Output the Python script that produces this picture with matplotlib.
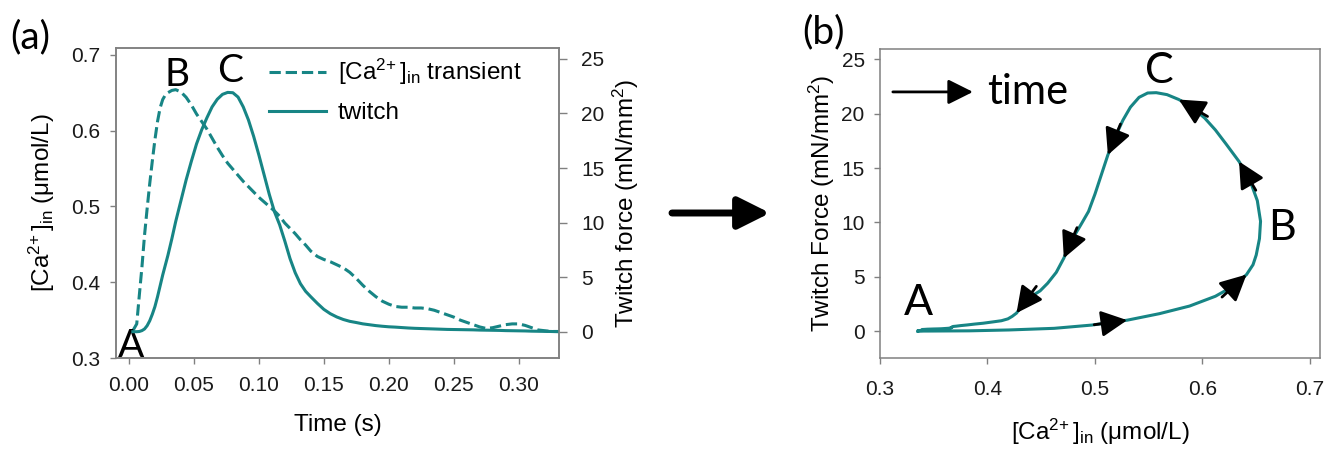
import numpy as np
import matplotlib
matplotlib.use("Agg")
import matplotlib.pyplot as plt
from matplotlib.patches import FancyArrowPatch

plt.rcParams['font.family'] = ['Liberation Sans', 'DejaVu Sans']
plt.rcParams['mathtext.fontset'] = 'custom'
plt.rcParams['mathtext.rm'] = 'Liberation Sans'
plt.rcParams['mathtext.it'] = 'Liberation Sans:italic'
plt.rcParams['mathtext.default'] = 'regular'

# time (s)
t = [0.003, 0.006, 0.008, 0.010, 0.012, 0.014, 0.016, 0.018, 0.020, 0.022,
     0.024, 0.026, 0.028, 0.030, 0.033, 0.036, 0.040, 0.044, 0.048, 0.052,
     0.056, 0.060, 0.064, 0.068, 0.072, 0.076, 0.080, 0.084, 0.088, 0.092,
     0.096, 0.100, 0.104, 0.108, 0.112, 0.116, 0.120, 0.124, 0.128, 0.132,
     0.136, 0.140, 0.145, 0.150, 0.155, 0.160, 0.165, 0.170, 0.175, 0.180,
     0.185, 0.190, 0.195, 0.200, 0.205, 0.210, 0.215, 0.220, 0.225, 0.230,
     0.235, 0.240, 0.245, 0.250, 0.255, 0.260, 0.265, 0.270, 0.275, 0.280,
     0.285, 0.290, 0.295, 0.300, 0.305, 0.310, 0.315, 0.320, 0.325, 0.331]

# [Ca2+]in transient (umol/L)
ca = [0.336, 0.345, 0.383, 0.420, 0.462, 0.497, 0.530, 0.560, 0.588, 0.612,
      0.630, 0.641, 0.647, 0.650, 0.653, 0.654, 0.651, 0.644, 0.634, 0.622,
      0.612, 0.602, 0.590, 0.578, 0.567, 0.557, 0.549, 0.541, 0.533, 0.526,
      0.519, 0.512, 0.506, 0.500, 0.494, 0.487, 0.478, 0.471, 0.464, 0.456,
      0.449, 0.441, 0.434, 0.430, 0.427, 0.423, 0.419, 0.413, 0.405, 0.396,
      0.388, 0.381, 0.375, 0.371, 0.368, 0.367, 0.367, 0.366, 0.366, 0.365,
      0.363, 0.360, 0.357, 0.354, 0.350, 0.347, 0.344, 0.341, 0.339, 0.340,
      0.342, 0.344, 0.345, 0.345, 0.343, 0.340, 0.337, 0.336, 0.335, 0.335]

# twitch force (mN/mm2)
force = [0.0, 0.0, 0.02, 0.1, 0.25, 0.55, 1.0, 1.6, 2.3, 3.2,
         4.2, 5.2, 6.1, 7.0, 8.5, 10.1, 12.0, 13.9, 15.6, 17.2,
         18.5, 19.6, 20.6, 21.3, 21.75, 21.93, 21.9, 21.5, 20.6, 19.4,
         17.9, 16.2, 14.4, 12.6, 11.0, 9.8, 8.3, 6.7, 5.4, 4.4,
         3.7, 3.2, 2.6, 2.05, 1.65, 1.35, 1.12, 0.95, 0.84, 0.72,
         0.64, 0.56, 0.50, 0.45, 0.42, 0.38, 0.34, 0.31, 0.29, 0.27,
         0.25, 0.23, 0.21, 0.20, 0.19, 0.18, 0.17, 0.15, 0.14, 0.13,
         0.12, 0.10, 0.09, 0.08, 0.07, 0.05, 0.04, 0.03, 0.02, 0.0]

# times at which panel (b) carries an arrow head
arrow_times = [0.016, 0.026, 0.048, 0.068, 0.100, 0.124, 0.155]

t = np.array(t)
ca = np.array(ca)
force = np.array(force)

teal = '#178585'
gray = '#808080'
ca_lab = '[Ca$^{2\\!+}$]$_{in}$'

fig = plt.figure(figsize=(13.42, 4.51), dpi=100)


def style_axes(ax):
    for s in ax.spines.values():
        s.set_color(gray)
        s.set_linewidth(1.1)
    ax.tick_params(direction='out', length=4, width=1, color=gray,
                   labelsize=15, labelcolor='#1a1a1a')


# ---- panel (a) ----
ax1 = fig.add_axes([0.0864, 0.2062, 0.3301, 0.6874])
ax2 = ax1.twinx()
l1, = ax1.plot(t, ca, '--', color=teal, lw=2.2)
l2, = ax2.plot(t, force, '-', color=teal, lw=2.2)
ax1.set_xlim(-0.01, 0.331)
ax1.set_ylim(0.3, 0.709)
ax2.set_ylim(-2.41, 26.0)
ax1.set_xticks([0, 0.05, 0.10, 0.15, 0.20, 0.25, 0.30])
ax1.set_xticklabels(['0.00', '0.05', '0.10', '0.15', '0.20', '0.25', '0.30'])
ax1.set_yticks([0.3, 0.4, 0.5, 0.6, 0.7])
ax2.set_yticks([0, 5, 10, 15, 20, 25])
style_axes(ax1)
style_axes(ax2)
ax1.tick_params(axis='x', pad=9)
ax1.tick_params(axis='y', pad=7)
ax2.tick_params(axis='y', length=6, pad=10)
ax1.set_xlabel('Time (s)', fontsize=17.5)
ax1.set_ylabel(ca_lab + ' (μmol/L)', fontsize=17.5)
ax2.set_ylabel('Twitch force (mN/mm$^2$)', fontsize=17.5)
ax1.xaxis.set_label_coords(0.5, -0.216)
ax1.xaxis.label.set_va('center')
ax1.yaxis.set_label_coords(-0.167, 0.5)
ax1.yaxis.label.set_va('center')
ax2.yaxis.set_label_coords(1.152, 0.5)
ax2.yaxis.label.set_va('center')

ax1.legend([l1, l2], [ca_lab + ' transient', 'twitch'],
           loc='upper left', bbox_to_anchor=(0.345, 0.97), frameon=False,
           fontsize=17.5, handlelength=2.35, handletextpad=0.5,
           labelspacing=0.6, borderpad=0, borderaxespad=0)

lett = dict(fontsize=28, family='Lato', ha='center', va='center')
ax1.text(0.002, 0.316, 'A', **lett)
ax1.text(0.0367, 0.674, 'B', **lett)
ax1.text(0.0777, 0.678, 'C', **lett)

# ---- panel (b) ----
ax3 = fig.add_axes([0.6557, 0.2062, 0.3279, 0.6852])
ax3.plot(ca, force, '-', color=teal, lw=2.2)
ax3.set_xlim(0.3, 0.7093)
ax3.set_ylim(-2.48, 25.95)
ax3.set_xticks([0.3, 0.4, 0.5, 0.6, 0.7])
ax3.set_yticks([0, 5, 10, 15, 20, 25])
style_axes(ax3)
ax3.tick_params(axis='x', pad=12)
ax3.tick_params(axis='y', pad=7)
ax3.set_xlabel(ca_lab + ' (μmol/L)', fontsize=17.5)
ax3.set_ylabel('Twitch Force (mN/mm$^2$)', fontsize=17.5)
ax3.xaxis.set_label_coords(0.5, -0.239)
ax3.xaxis.label.set_va('center')
ax3.yaxis.set_label_coords(-0.132, 0.5)
ax3.yaxis.label.set_va('center')

# arrow heads along the loop: direction taken from the incoming segment on screen
for at in arrow_times:
    i = int(np.argmin(np.abs(t - at)))
    p0 = ax3.transData.transform((ca[i - 1], force[i - 1]))
    p1 = ax3.transData.transform((ca[i], force[i]))
    d = (p1 - p0) / np.hypot(*(p1 - p0))
    back = -d * 24  # tail length in points
    ax3.annotate('', xy=(ca[i], force[i]), xytext=(back[0], back[1]),
                 textcoords='offset points',
                 arrowprops=dict(arrowstyle='-|>', color='k', lw=2,
                                 mutation_scale=40, shrinkA=0, shrinkB=0))

lettb = dict(fontsize=31, family='Lato', ha='center', va='center')
ax3.text(0.336, 2.6, 'A', **lettb)
ax3.text(0.674, 9.5, 'B', **lettb)
ax3.text(0.56, 23.9, 'C', **lettb)

ax3.annotate('', xy=(0.3865, 22.0), xytext=(0.312, 22.0),
             arrowprops=dict(arrowstyle='-|>', color='k', lw=2,
                             mutation_scale=38, shrinkA=0, shrinkB=0))
ax3.text(0.3995, 22.0, 'time', fontsize=30, family='Lato', ha='left', va='center')

# panel letters and big arrow between panels
fig.text(10 / 1342, 1 - 37 / 451, '(a)', fontsize=28, family='Lato', va='center')
fig.text(802 / 1342, 1 - 32 / 451, '(b)', fontsize=28, family='Lato', va='center')
fig.add_artist(FancyArrowPatch((672 / 1342, 1 - 213 / 451), (770 / 1342, 1 - 213 / 451),
                               transform=fig.transFigure, arrowstyle='-|>',
                               mutation_scale=48, lw=5, color='k',
                               shrinkA=0, shrinkB=0))

fig.savefig('out.png', dpi=100)
